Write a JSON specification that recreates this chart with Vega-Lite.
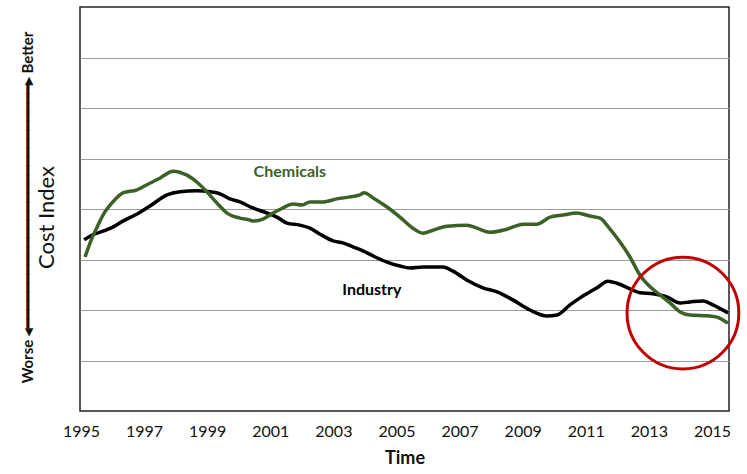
{
  "$schema": "https://vega.github.io/schema/vega-lite/v6.json",
  "width": 649,
  "height": 404,
  "autosize": "none",
  "padding": {"left": 80, "top": 7, "right": 18, "bottom": 63},
  "background": "white",
  "config": {"view": {"stroke": "#222222", "strokeWidth": 1.5}, "font": "Lato"},
  "datasets": {
    "series": [
      {"series": "Chemicals", "year": 1995.13, "value": 3.05},
      {"series": "Chemicals", "year": 1995.29, "value": 3.33},
      {"series": "Chemicals", "year": 1995.51, "value": 3.64},
      {"series": "Chemicals", "year": 1995.70, "value": 3.88},
      {"series": "Chemicals", "year": 1996.01, "value": 4.14},
      {"series": "Chemicals", "year": 1996.33, "value": 4.32},
      {"series": "Chemicals", "year": 1996.78, "value": 4.38},
      {"series": "Chemicals", "year": 1997.09, "value": 4.48},
      {"series": "Chemicals", "year": 1997.50, "value": 4.61},
      {"series": "Chemicals", "year": 1997.92, "value": 4.75},
      {"series": "Chemicals", "year": 1998.36, "value": 4.67},
      {"series": "Chemicals", "year": 1998.68, "value": 4.53},
      {"series": "Chemicals", "year": 1998.99, "value": 4.34},
      {"series": "Chemicals", "year": 1999.31, "value": 4.12},
      {"series": "Chemicals", "year": 1999.63, "value": 3.92},
      {"series": "Chemicals", "year": 2000.04, "value": 3.82},
      {"series": "Chemicals", "year": 2000.36, "value": 3.78},
      {"series": "Chemicals", "year": 2000.45, "value": 3.76},
      {"series": "Chemicals", "year": 2000.77, "value": 3.80},
      {"series": "Chemicals", "year": 2001.09, "value": 3.92},
      {"series": "Chemicals", "year": 2001.40, "value": 4.02},
      {"series": "Chemicals", "year": 2001.72, "value": 4.10},
      {"series": "Chemicals", "year": 2002.01, "value": 4.08},
      {"series": "Chemicals", "year": 2002.26, "value": 4.14},
      {"series": "Chemicals", "year": 2002.67, "value": 4.14},
      {"series": "Chemicals", "year": 2003.11, "value": 4.20},
      {"series": "Chemicals", "year": 2003.53, "value": 4.24},
      {"series": "Chemicals", "year": 2003.84, "value": 4.28},
      {"series": "Chemicals", "year": 2003.97, "value": 4.32},
      {"series": "Chemicals", "year": 2004.26, "value": 4.22},
      {"series": "Chemicals", "year": 2004.70, "value": 4.04},
      {"series": "Chemicals", "year": 2005.11, "value": 3.84},
      {"series": "Chemicals", "year": 2005.52, "value": 3.62},
      {"series": "Chemicals", "year": 2005.84, "value": 3.52},
      {"series": "Chemicals", "year": 2006.16, "value": 3.58},
      {"series": "Chemicals", "year": 2006.60, "value": 3.66},
      {"series": "Chemicals", "year": 2007.24, "value": 3.68},
      {"series": "Chemicals", "year": 2007.55, "value": 3.62},
      {"series": "Chemicals", "year": 2007.96, "value": 3.54},
      {"series": "Chemicals", "year": 2008.50, "value": 3.60},
      {"series": "Chemicals", "year": 2009.01, "value": 3.70},
      {"series": "Chemicals", "year": 2009.45, "value": 3.70},
      {"series": "Chemicals", "year": 2009.87, "value": 3.84},
      {"series": "Chemicals", "year": 2010.28, "value": 3.88},
      {"series": "Chemicals", "year": 2010.72, "value": 3.92},
      {"series": "Chemicals", "year": 2011.13, "value": 3.86},
      {"series": "Chemicals", "year": 2011.45, "value": 3.82},
      {"series": "Chemicals", "year": 2011.77, "value": 3.60},
      {"series": "Chemicals", "year": 2012.08, "value": 3.35},
      {"series": "Chemicals", "year": 2012.40, "value": 3.05},
      {"series": "Chemicals", "year": 2012.72, "value": 2.69},
      {"series": "Chemicals", "year": 2013.04, "value": 2.46},
      {"series": "Chemicals", "year": 2013.35, "value": 2.30},
      {"series": "Chemicals", "year": 2013.67, "value": 2.14},
      {"series": "Chemicals", "year": 2013.99, "value": 1.96},
      {"series": "Chemicals", "year": 2014.30, "value": 1.90},
      {"series": "Chemicals", "year": 2014.94, "value": 1.88},
      {"series": "Chemicals", "year": 2015.16, "value": 1.86},
      {"series": "Chemicals", "year": 2015.35, "value": 1.80},
      {"series": "Chemicals", "year": 2015.51, "value": 1.74},
      {"series": "Industry", "year": 1995.10, "value": 3.39},
      {"series": "Industry", "year": 1995.38, "value": 3.49},
      {"series": "Industry", "year": 1995.70, "value": 3.56},
      {"series": "Industry", "year": 1996.01, "value": 3.64},
      {"series": "Industry", "year": 1996.33, "value": 3.76},
      {"series": "Industry", "year": 1996.78, "value": 3.90},
      {"series": "Industry", "year": 1997.19, "value": 4.06},
      {"series": "Industry", "year": 1997.73, "value": 4.28},
      {"series": "Industry", "year": 1998.14, "value": 4.34},
      {"series": "Industry", "year": 1998.68, "value": 4.36},
      {"series": "Industry", "year": 1999.09, "value": 4.34},
      {"series": "Industry", "year": 1999.41, "value": 4.30},
      {"series": "Industry", "year": 1999.72, "value": 4.20},
      {"series": "Industry", "year": 2000.04, "value": 4.14},
      {"series": "Industry", "year": 2000.45, "value": 4.02},
      {"series": "Industry", "year": 2000.90, "value": 3.92},
      {"series": "Industry", "year": 2001.21, "value": 3.84},
      {"series": "Industry", "year": 2001.53, "value": 3.72},
      {"series": "Industry", "year": 2001.94, "value": 3.68},
      {"series": "Industry", "year": 2002.26, "value": 3.62},
      {"series": "Industry", "year": 2002.58, "value": 3.50},
      {"series": "Industry", "year": 2002.99, "value": 3.37},
      {"series": "Industry", "year": 2003.30, "value": 3.33},
      {"series": "Industry", "year": 2003.62, "value": 3.25},
      {"series": "Industry", "year": 2003.94, "value": 3.17},
      {"series": "Industry", "year": 2004.26, "value": 3.07},
      {"series": "Industry", "year": 2004.70, "value": 2.95},
      {"series": "Industry", "year": 2005.11, "value": 2.87},
      {"series": "Industry", "year": 2005.43, "value": 2.83},
      {"series": "Industry", "year": 2005.84, "value": 2.85},
      {"series": "Industry", "year": 2006.47, "value": 2.85},
      {"series": "Industry", "year": 2006.79, "value": 2.77},
      {"series": "Industry", "year": 2007.24, "value": 2.59},
      {"series": "Industry", "year": 2007.74, "value": 2.44},
      {"series": "Industry", "year": 2008.19, "value": 2.36},
      {"series": "Industry", "year": 2008.69, "value": 2.20},
      {"series": "Industry", "year": 2009.23, "value": 2.00},
      {"series": "Industry", "year": 2009.77, "value": 1.88},
      {"series": "Industry", "year": 2010.09, "value": 1.90},
      {"series": "Industry", "year": 2010.50, "value": 2.10},
      {"series": "Industry", "year": 2010.82, "value": 2.24},
      {"series": "Industry", "year": 2011.36, "value": 2.44},
      {"series": "Industry", "year": 2011.70, "value": 2.57},
      {"series": "Industry", "year": 2011.99, "value": 2.53},
      {"series": "Industry", "year": 2012.40, "value": 2.42},
      {"series": "Industry", "year": 2012.72, "value": 2.34},
      {"series": "Industry", "year": 2013.13, "value": 2.32},
      {"series": "Industry", "year": 2013.57, "value": 2.26},
      {"series": "Industry", "year": 2013.99, "value": 2.14},
      {"series": "Industry", "year": 2014.30, "value": 2.16},
      {"series": "Industry", "year": 2014.72, "value": 2.18},
      {"series": "Industry", "year": 2015.03, "value": 2.10},
      {"series": "Industry", "year": 2015.51, "value": 1.94}
    ],
    "labels": [
      {"series": "Chemicals", "label": "Chemicals", "year": 2001.62, "value": 4.73},
      {"series": "Industry", "label": "Industry", "year": 2004.22, "value": 2.40}
    ],
    "highlight": [
      {"year": 2014.08, "value": 1.94}
    ]
  },
  "layer": [
    {
      "data": {"name": "series"},
      "transform": [{"filter": "datum.series === 'Industry'"}],
      "mark": {"type": "line", "color": "#000000", "strokeWidth": 3.5, "interpolate": "monotone"},
      "encoding": {
        "x": {
          "field": "year", "type": "quantitative",
          "scale": {"domain": [1994.97, 2015.54], "nice": false, "zero": false},
          "axis": {
            "title": "Time", "titleFontSize": 18, "titleFontWeight": "bold", "titleColor": "#111111", "titlePadding": 10,
            "values": [1995, 1997, 1999, 2001, 2003, 2005, 2007, 2009, 2011, 2013, 2015],
            "format": "d", "labelFontSize": 16, "labelColor": "#111111", "labelPadding": 12,
            "labelFlush": false, "labelOverlap": false, "labelBound": false,
            "ticks": false, "domain": false, "grid": false
          }
        },
        "y": {
          "field": "value", "type": "quantitative",
          "scale": {"domain": [0, 8], "nice": false},
          "axis": {
            "title": "Cost Index", "titleFontSize": 22, "titleFontWeight": "normal", "titleColor": "#111111",
            "titlePadding": 22, "titleY": 210,
            "values": [1, 2, 3, 4, 5, 6, 7], "labels": false, "ticks": false, "domain": false,
            "grid": true, "gridColor": "#9a9a9a", "gridWidth": 1
          }
        }
      }
    },
    {
      "data": {"name": "series"},
      "transform": [{"filter": "datum.series === 'Chemicals'"}],
      "mark": {"type": "line", "color": "#3b6127", "strokeWidth": 3.5, "interpolate": "monotone"},
      "encoding": {
        "x": {"field": "year", "type": "quantitative", "axis": null},
        "y": {"field": "value", "type": "quantitative", "axis": null}
      }
    },
    {
      "data": {"name": "labels"},
      "mark": {"type": "text", "fontWeight": "bold", "fontSize": 16},
      "encoding": {
        "x": {"field": "year", "type": "quantitative", "axis": null},
        "y": {
          "field": "value", "type": "quantitative",
          "axis": {
            "orient": "left",
            "title": "Worse  ◂━━━━━━━━━━━━━━━━━━━━━━━━━━━▸  Better",
            "titleFontSize": 15, "titleFontWeight": "bold", "titleColor": "#111111",
            "titlePadding": 45, "titleY": 200, "labels": false, "ticks": false, "domain": false, "grid": false
          }
        },
        "text": {"field": "label"},
        "color": {
          "field": "series", "type": "nominal",
          "scale": {"domain": ["Chemicals", "Industry"], "range": ["#3b6127", "#000000"]},
          "legend": null
        }
      }
    },
    {
      "data": {"name": "highlight"},
      "mark": {"type": "point", "shape": "circle", "filled": false, "size": 12500, "strokeWidth": 3, "color": "#c00000", "opacity": 1},
      "encoding": {
        "x": {"field": "year", "type": "quantitative", "axis": null},
        "y": {"field": "value", "type": "quantitative", "axis": null}
      }
    }
  ],
  "resolve": {"axis": {"x": "independent", "y": "independent"}}
}
